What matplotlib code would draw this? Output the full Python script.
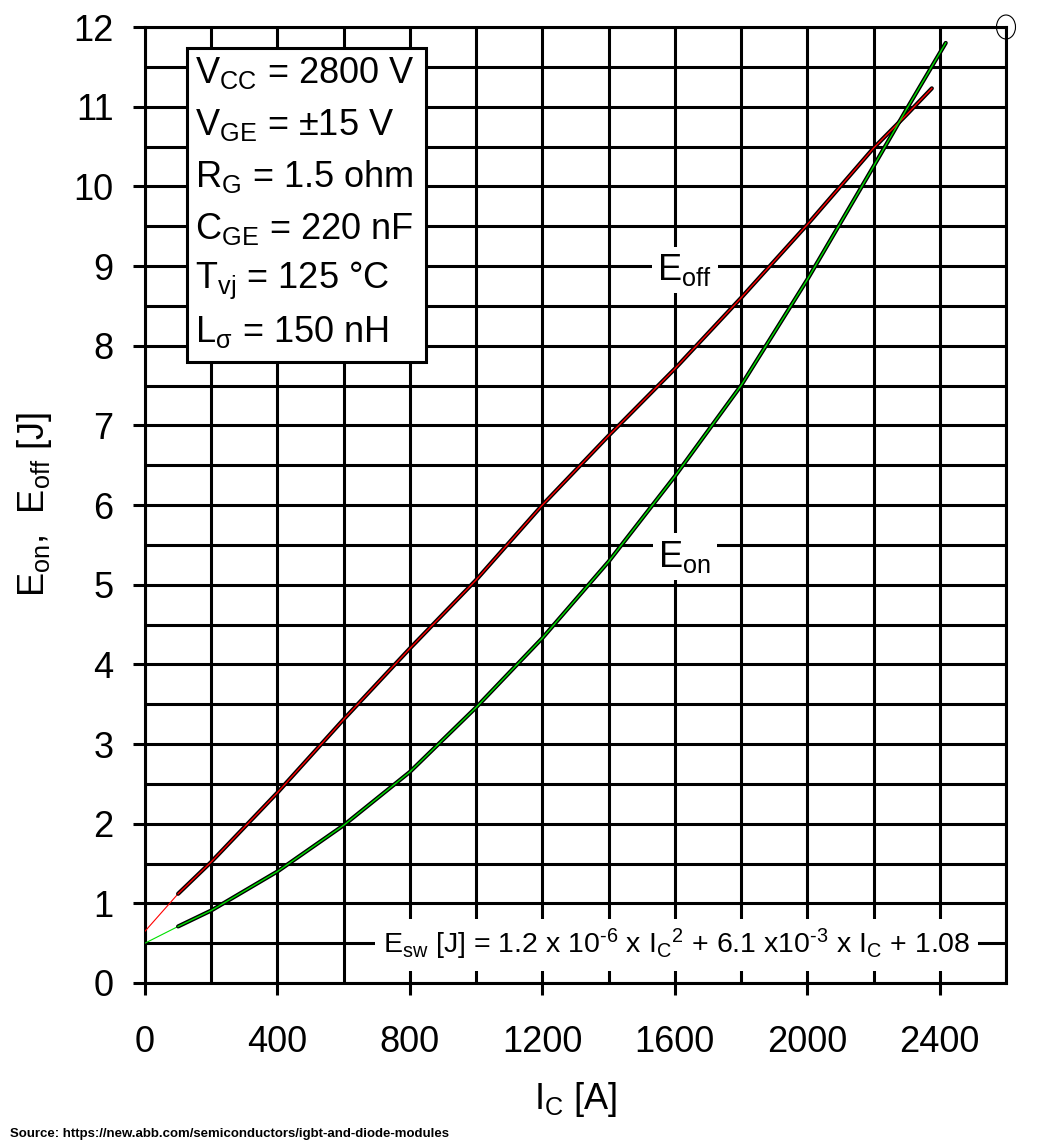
import matplotlib
matplotlib.use("Agg")
import matplotlib.pyplot as plt
from matplotlib.ticker import MultipleLocator
from matplotlib.patches import Rectangle, Ellipse

plt.rcParams['font.family'] = ['Liberation Sans', 'DejaVu Sans']
plt.rcParams['mathtext.fontset'] = 'custom'
plt.rcParams['mathtext.rm'] = 'Liberation Sans'
plt.rcParams['mathtext.it'] = 'Liberation Sans'
plt.rcParams['mathtext.bf'] = 'Liberation Sans:bold'

# ---- data ----
I_off = [100, 200, 400, 600, 800, 1000, 1200, 1400, 1600, 1800, 2000, 2200, 2300, 2376]
E_off = [1.12, 1.52, 2.39, 3.31, 4.20, 5.06, 6.00, 6.87, 7.71, 8.60, 9.52, 10.48, 10.90, 11.23]
I_on = [100, 200, 400, 600, 800, 1000, 1200, 1400, 1600, 1800, 2000, 2200, 2300, 2418]
E_on = [0.71, 0.91, 1.40, 1.98, 2.65, 3.46, 4.33, 5.29, 6.36, 7.50, 8.83, 10.25, 10.97, 11.80]
I_off_ext = [0, 100]
E_off_ext = [0.65, 1.12]
I_on_ext = [0, 100]
E_on_ext = [0.50, 0.71]

x_ticks = [0, 400, 800, 1200, 1600, 2000, 2400]
y_ticks = list(range(0, 13))

conditions = [r"$\mathrm{V_{CC}}$ = 2800 V",
              r"$\mathrm{V_{GE}}$ = ±15 V",
              r"$\mathrm{R_{G}}$ = 1.5 ohm",
              r"$\mathrm{C_{GE}}$ = 220 nF",
              r"$\mathrm{T_{vj}}$ = 125 °C",
              r"$\mathrm{L_{σ}}$ = 150 nH"]

W, H = 1037, 1148
fig = plt.figure(figsize=(W / 100, H / 100), dpi=100)
ax = fig.add_axes([145 / W, 1 - 983 / H, (1006 - 145) / W, (983 - 27) / H])

LW = 2.2
ax.set_xlim(0, 2600)
ax.set_ylim(0, 12)
ax.xaxis.set_major_locator(MultipleLocator(400))
ax.xaxis.set_minor_locator(MultipleLocator(200))
ax.yaxis.set_major_locator(MultipleLocator(1))
ax.yaxis.set_minor_locator(MultipleLocator(0.5))
ax.set_xticks(x_ticks)
ax.set_yticks(y_ticks)
ax.grid(True, which='both', color='black', lw=LW, zorder=0)
ax.set_axisbelow(True)
for s in ax.spines.values():
    s.set_linewidth(LW)
ax.tick_params(axis='both', which='major', direction='out', length=8.6, width=LW,
               labelsize=26)
ax.tick_params(axis='x', which='major', pad=22)
ax.tick_params(axis='y', which='major', pad=14)
ax.tick_params(axis='both', which='minor', length=0)

# curves
ax.plot(I_off_ext, E_off_ext, color='red', lw=0.8, zorder=3)
ax.plot(I_on_ext, E_on_ext, color='#00e000', lw=0.8, zorder=3)
ax.plot(I_off, E_off, color='black', lw=3.0, zorder=3, solid_capstyle='round')
ax.plot(I_off, E_off, color='red', lw=1.0, zorder=4)
ax.plot(I_on, E_on, color='black', lw=3.0, zorder=3, solid_capstyle='round')
ax.plot(I_on, E_on, color='#00e000', lw=1.0, zorder=4)

# conditions box
ax.add_patch(Rectangle((127, 7.79), 850 - 127, 11.74 - 7.79, facecolor='white',
                       edgecolor='black', lw=LW, zorder=5))
ys = [11.42, 10.77, 10.12, 9.47, 8.82, 8.17]
for t, y in zip(conditions, ys):
    ax.text(152, y, t, fontsize=26, ha='left', va='center', zorder=6)

# curve labels
wb = dict(facecolor='white', edgecolor='none', pad=4)
ax.text(1630, 8.95, r"$\mathrm{E_{off}}$", fontsize=26, ha='center', va='center',
        bbox=wb, zorder=6)
ax.text(1630, 5.35, r"$\mathrm{E_{on}}$", fontsize=26, ha='center', va='center',
        bbox=wb, zorder=6)
ax.text(1605, 0.48,
        r"$\mathrm{E_{sw}}$ [J] = 1.2 x 10$^{\text{-6}}$ x $\mathrm{I_C}^{\text{2}}$ + 6.1 x10$^{\text{-3}}$ x $\mathrm{I_C}$ + 1.08",
        fontsize=20.5, ha='center', va='center',
        bbox=dict(facecolor='white', edgecolor='none', pad=6), zorder=6)

ax.set_xlabel(r"$\mathrm{I_C}$ [A]", fontsize=26, labelpad=14)
ax.set_ylabel(r"$\mathrm{E_{on}}$,  $\mathrm{E_{off}}$ [J]", fontsize=26, labelpad=14)

ax.add_patch(Ellipse((1.0, 1.0), 19 / 861, 24 / 956, transform=ax.transAxes,
                     fill=False, edgecolor='black', lw=0.8, clip_on=False, zorder=7))

fig.text(10 / W, 1 - 1137 / H, "Source: https://new.abb.com/semiconductors/igbt-and-diode-modules",
         fontsize=9.5, fontweight='bold', ha='left', va='baseline')

fig.savefig("out.png", dpi=100, facecolor='white')
